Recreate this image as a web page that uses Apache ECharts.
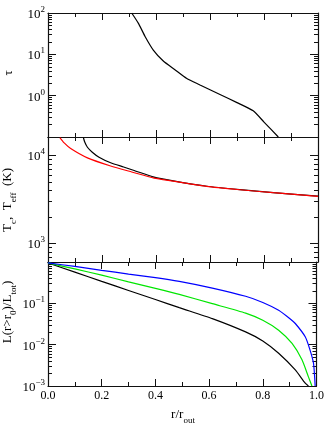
<!DOCTYPE html>
<html>
<head>
<meta charset="utf-8">
<script src="https://cdn.jsdelivr.net/npm/echarts@6/dist/echarts.min.js"></script>
<style>
html, body { margin: 0; padding: 0; background: #fff; }
#main { width: 327px; height: 424px; }
</style>
</head>
<body>
<div id="main"></div>
<script>
// top panel: optical depth
var tauR = [0.31, 0.335, 0.36, 0.39, 0.427, 0.47, 0.514, 0.563, 0.637, 0.70, 0.76, 0.80, 0.853];
var tauVal = [100, 56, 26.7, 12.7, 6.9, 4.25, 2.6, 1.82, 1.07, 0.68, 0.43, 0.23, 0.1];

// middle panel: central and effective temperature
var tcR = [0.131, 0.136, 0.146, 0.164, 0.189, 0.232, 0.28, 0.319, 0.393, 0.464, 0.588, 0.711, 0.834, 1.0];
var tcVal = [16000, 14200, 12400, 10900, 9560, 8260, 7400, 6760, 5680, 5150, 4470, 4090, 3790, 3450];
var teffR = [0.044, 0.06, 0.084, 0.146, 0.232, 0.31, 0.393, 0.464, 0.588, 0.711, 0.834, 1.0];
var teffVal = [16000, 13900, 12000, 9400, 7600, 6500, 5530, 5120, 4460, 4080, 3780, 3440];

// bottom panel: luminosity outside r0
var lumBlueR = [0, 0.1, 0.2, 0.3, 0.4, 0.489, 0.612, 0.736, 0.8, 0.859, 0.9, 0.921, 0.958, 0.976, 0.989, 0.995];
var lumBlueVal = [0.95, 0.78, 0.63, 0.51, 0.42, 0.34, 0.234, 0.148, 0.105, 0.068, 0.043, 0.0325, 0.0155, 0.0074, 0.0035, 0.001];
var lumGreenR = [0, 0.1, 0.2, 0.3, 0.4, 0.489, 0.612, 0.736, 0.8, 0.859, 0.909, 0.946, 0.97, 0.983];
var lumGreenVal = [0.95, 0.68, 0.48, 0.33, 0.23, 0.165, 0.098, 0.058, 0.039, 0.0224, 0.0107, 0.0043, 0.00166, 0.001];
var lumBlackR = [0, 0.1, 0.2, 0.3, 0.4, 0.489, 0.612, 0.736, 0.8, 0.859, 0.921, 0.958, 0.97];
var lumBlackVal = [0.95, 0.57, 0.34, 0.205, 0.124, 0.0787, 0.0428, 0.0204, 0.0123, 0.0062, 0.00245, 0.00117, 0.001];

// log10 ranges and labelled decades of each panel
var yRanges = [[-1, 2], [2.79, 4.21], [-3, 0]];
var yDecades = [[0, 1, 2], [3, 4], [-3, -2, -1]];
var xLabels = ['0.0', '0.2', '0.4', '0.6', '0.8', '1.0'];

var FONT = '"Liberation Serif", serif';
var INK = '#111';

var grids = [
  { left: 48, top: 13, width: 270, height: 124 },
  { left: 48, top: 137, width: 270, height: 125 },
  { left: 48, top: 262, width: 270, height: 124 }
];

function minorLogs(range) {
  var out = [];
  for (var n = Math.floor(range[0]) - 1; n <= Math.ceil(range[1]); n++) {
    for (var k = 2; k <= 9; k++) {
      var v = n + Math.log10(k);
      if (v > range[0] && v < range[1]) out.push(v);
    }
  }
  return out;
}

function pairs(xs, ys) {
  return xs.map(function (x, i) { return [x, Math.log10(ys[i])]; });
}

var supRich = {
  b: { fontFamily: FONT, fontSize: 13, color: '#000', lineHeight: 16, verticalAlign: 'bottom' },
  s: { fontFamily: FONT, fontSize: 9, color: '#000', lineHeight: 9, verticalAlign: 'top' }
};
var subRich = {
  m: { fontFamily: FONT, fontSize: 13, color: '#000', lineHeight: 17, verticalAlign: 'top' },
  u: { fontFamily: FONT, fontSize: 9, color: '#000', lineHeight: 9, verticalAlign: 'bottom' }
};

var xAxes = [], yAxes = [];
grids.forEach(function (g, i) {
  ['bottom', 'top'].forEach(function (pos) {
    var showLab = (i === 2 && pos === 'bottom');
    xAxes.push({
      type: 'value', gridIndex: i, position: pos, min: 0, max: 1, interval: 0.2,
      axisLine: { onZero: false, lineStyle: { color: INK, width: 1.2 } },
      axisTick: { inside: true, length: 7, lineStyle: { color: INK, width: 1 } },
      minorTick: { show: true, splitNumber: 2, length: 4, lineStyle: { color: INK, width: 1 } },
      splitLine: { show: false },
      axisLabel: {
        show: showLab, margin: 4, fontFamily: FONT, fontSize: 12, color: '#000',
        formatter: function (v) { return xLabels[Math.round(v / 0.2)]; }
      }
    });
  });
  ['left', 'right'].forEach(function (pos) {
    // major decades
    yAxes.push({
      type: 'value', gridIndex: i, position: pos, min: yRanges[i][0], max: yRanges[i][1],
      axisLine: { show: true, onZero: false, lineStyle: { color: INK, width: 1.2 } },
      axisTick: { show: true, inside: true, length: 8, customValues: yDecades[i], lineStyle: { color: INK, width: 1 } },
      splitLine: { show: false },
      axisLabel: {
        show: pos === 'left', margin: 3, customValues: yDecades[i], rich: supRich,
        formatter: function (v) {
          var e = Math.round(v);
          return '{b|10}{s|' + (e < 0 ? '\u2212' + (-e) : e) + '}';
        }
      }
    });
    // minor log ticks
    yAxes.push({
      type: 'value', gridIndex: i, position: pos, min: yRanges[i][0], max: yRanges[i][1],
      axisLine: { show: false, onZero: false },
      axisTick: { show: true, inside: true, length: 4, customValues: minorLogs(yRanges[i]), lineStyle: { color: INK, width: 1 } },
      splitLine: { show: false },
      axisLabel: { show: false }
    });
  });
});

function line(gi, data, color) {
  return {
    type: 'line', xAxisIndex: gi * 2, yAxisIndex: gi * 4, data: data,
    showSymbol: false, smooth: 0.2, clip: true,
    lineStyle: { color: color, width: 1.2 }, z: 3
  };
}

var chart = echarts.init(document.getElementById('main'), null, { renderer: 'canvas' });
chart.setOption({
  animation: false,
  backgroundColor: '#fff',
  grid: grids,
  xAxis: xAxes,
  yAxis: yAxes,
  series: [
    line(0, pairs(tauR, tauVal), '#000'),
    line(1, pairs(tcR, tcVal), '#000'),
    line(1, pairs(teffR, teffVal), '#ff0000'),
    line(2, pairs(lumBlackR, lumBlackVal), '#000'),
    line(2, pairs(lumGreenR, lumGreenVal), '#00e600'),
    line(2, pairs(lumBlueR, lumBlueVal), '#0000ff')
  ],
  graphic: [
    { type: 'text', x: 9, y: 73, rotation: Math.PI / 2,
      style: { text: '\u03c4', font: '13px ' + FONT, fill: '#000', align: 'center', verticalAlign: 'middle' } },
    { type: 'text', x: 10, y: 200, rotation: Math.PI / 2,
      style: { text: '{m|T}{u|c}{m|,  T}{u|eff}{m|  (K)}', rich: subRich, align: 'center', verticalAlign: 'middle' } },
    { type: 'text', x: 10, y: 312, rotation: Math.PI / 2,
      style: { text: '{m|L(r>r}{u|0}{m|)/L}{u|tot}{m|)}', rich: subRich, align: 'center', verticalAlign: 'middle' } },
    { type: 'text', x: 183, y: 417,
      style: { text: '{m|r/r}{u|out}', rich: subRich, align: 'center', verticalAlign: 'middle' } }
  ]
});
</script>
</body>
</html>
